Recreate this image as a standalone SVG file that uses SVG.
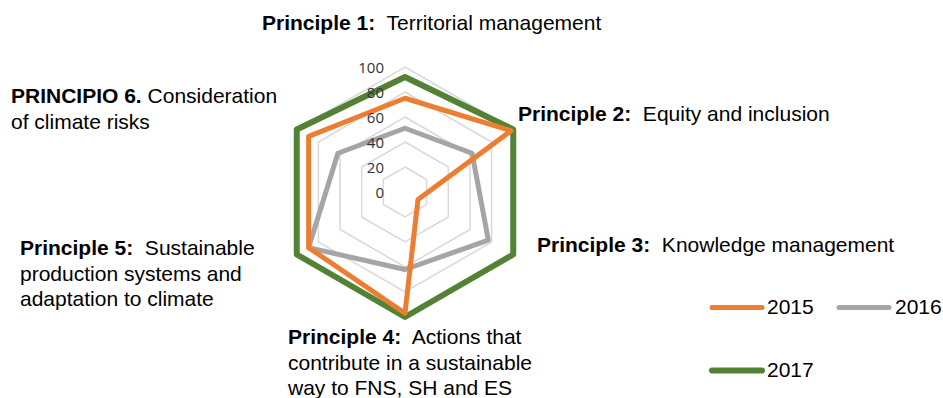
<svg xmlns="http://www.w3.org/2000/svg" width="943" height="398" viewBox="0 0 943 398">
<style>
.lbl{font-family:"Liberation Sans",Arial,sans-serif;font-size:21px;fill:#000}
.b{font-weight:bold}
.tick{font-family:"Open Sans","Liberation Sans",sans-serif;font-size:15px;fill:#333;text-anchor:end}
.grid{fill:none;stroke:#D9D9D9;stroke-width:1.5}
.ser{fill:none;stroke-linejoin:round;stroke-linecap:round}
.s2015{stroke:#ED7D31;stroke-width:5}
.s2016{stroke:#A5A5A5;stroke-width:5}
.s2017{stroke:#548235;stroke-width:6}
</style>
<rect width="943" height="398" fill="#fff"/>
<g id="grid">
<polygon class="grid" points="405,167 426.65,179.5 426.65,204.5 405,217 383.35,204.5 383.35,179.5"/>
<polygon class="grid" points="405,142 448.3,167 448.3,217 405,242 361.7,217 361.7,167"/>
<polygon class="grid" points="405,117 469.95,154.5 469.95,229.5 405,267 340.05,229.5 340.05,154.5"/>
<polygon class="grid" points="405,92 491.6,142 491.6,242 405,292 318.4,242 318.4,142"/>
<polygon class="grid" points="405,67 513.25,129.5 513.25,254.5 405,317 296.75,254.5 296.75,129.5"/>
</g>
<g id="connectors">
<polygon id="series-2017" class="ser s2017" points="405,77 513.25,129.5 513.25,254.5 405,317 296.75,254.5 296.75,129.5"/>
<polygon id="series-2016" class="ser s2016" points="405,128.25 472.1,153.25 488.35,240.1 405,269.5 308.65,247.6 337.9,153.25"/>
<polygon id="series-2015" class="ser s2015" points="405,98.25 511.1,130.75 418,199.5 405,313.25 308.65,247.6 308.65,136.4"/>
</g>
<g id="axis-ticks">
<text class="tick" x="384" y="73">100</text>
<text class="tick" x="384" y="98">80</text>
<text class="tick" x="384" y="123">60</text>
<text class="tick" x="384" y="148">40</text>
<text class="tick" x="384" y="173">20</text>
<text class="tick" x="384" y="198">0</text>
</g>
<g id="principle-1"><text class="lbl" x="262" y="30" xml:space="preserve"><tspan class="b">Principle 1:</tspan>  Territorial management</text></g>
<g id="principle-2"><text class="lbl" x="518" y="121" xml:space="preserve"><tspan class="b">Principle 2:</tspan>  Equity and inclusion</text></g>
<g id="principle-3"><text class="lbl" x="537" y="252" xml:space="preserve"><tspan class="b">Principle 3:</tspan>  Knowledge management</text></g>
<g id="principle-4">
<text class="lbl" x="288" y="344" xml:space="preserve"><tspan class="b">Principle 4:</tspan>  Actions that</text>
<text class="lbl" x="288" y="370">contribute in a sustainable</text>
<text class="lbl" x="288" y="395">way to FNS, SH and ES</text>
</g>
<g id="principle-5">
<text class="lbl" x="20" y="255" xml:space="preserve"><tspan class="b">Principle 5:</tspan>  Sustainable</text>
<text class="lbl" x="20" y="280.5">production systems and</text>
<text class="lbl" x="20" y="306">adaptation to climate</text>
</g>
<g id="principle-6">
<text class="lbl" x="11" y="103" xml:space="preserve"><tspan class="b">PRINCIPIO 6.</tspan> Consideration</text>
<text class="lbl" x="11" y="128.5">of climate risks</text>
</g>
<g id="legend">
<line class="ser s2015" x1="712" y1="307.5" x2="762" y2="307.5" stroke-width="6"/>
<text class="lbl" x="767" y="314">2015</text>
<line class="ser s2016" x1="839" y1="307.5" x2="889" y2="307.5" stroke-width="6"/>
<text class="lbl" x="895" y="314">2016</text>
<line class="ser s2017" x1="712" y1="370.5" x2="762" y2="370.5"/>
<text class="lbl" x="767" y="377">2017</text>
</g>
</svg>
